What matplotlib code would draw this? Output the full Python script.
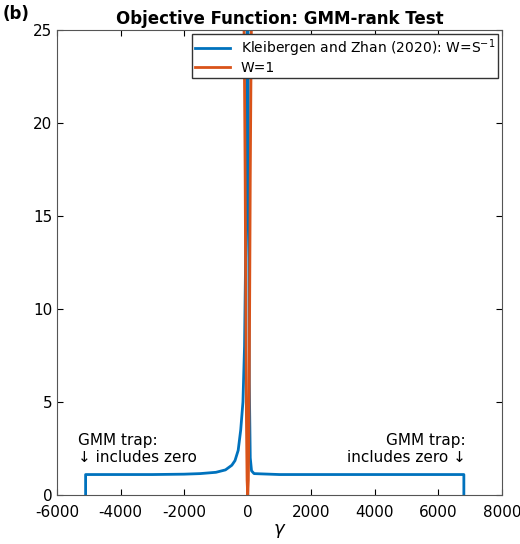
import matplotlib
matplotlib.use("Agg")
import matplotlib.pyplot as plt
plt.rcParams["axes.unicode_minus"] = False

blue_x = [-5100, -5100, -4000, -3000, -2000, -1500, -1000, -700, -500, -400, -300, -220, -150, -100, -50, -20, 0, 20, 50, 80, 120, 200, 1000, 3000, 6800, 6800]
blue_y = [0, 1.1, 1.1, 1.1, 1.12, 1.15, 1.22, 1.35, 1.6, 1.85, 2.4, 3.5, 5, 8, 15, 25, 30, 20, 6, 2.0, 1.3, 1.15, 1.1, 1.1, 1.1, 0]
red_x = [-160, -140, -120, -100, -80, -60, -40, -20, 0, 20, 40, 60, 80, 100, 120, 140, 160]
red_y = [34, 30, 26, 22, 17, 10, 4, 0.8, 0.0, 0.8, 4, 10, 17, 22, 26, 30, 34]

fig = plt.figure(figsize=(5.2, 5.44), dpi=100)
ax = fig.add_axes([57/520, 1-495/544, (502-57)/520, (495-30)/544])
ax.plot(blue_x, blue_y, color="#0072BD", lw=2, label="Kleibergen and Zhan (2020): W=S$^{-1}$")
ax.plot(red_x, red_y, color="#D95319", lw=2, label="W=1")
ax.set_xlim(-6000, 8000)
ax.set_ylim(0, 25)
ax.set_xticks(range(-6000, 8001, 2000))
ax.set_yticks(range(0, 26, 5))
ax.tick_params(direction="in", labelsize=11, top=True, right=True, length=4)
ax.tick_params(axis="x", pad=7)
for s in ax.spines.values():
    s.set_color("#555555")
ax.set_xlabel(r"$\gamma$", fontsize=13, labelpad=2)
ax.set_title("Objective Function: GMM-rank Test", fontsize=12, fontweight="bold", pad=4)
ax.legend(loc="upper right", fontsize=10, fancybox=False, edgecolor="#333333", framealpha=1,
          borderaxespad=0.3, handlelength=2.5, borderpad=0.2, labelspacing=0.2)
ax.text(-5350, 1.6, "GMM trap:\n\u2193 includes zero", fontsize=11, ha="left", va="bottom", linespacing=1.2)
ax.text(6850, 1.6, "GMM trap:\nincludes zero \u2193", fontsize=11, ha="right", va="bottom", linespacing=1.2)
fig.text(0.005, 0.99, "(b)", fontsize=12, fontweight="bold", va="top")
fig.savefig("out.png", dpi=100)
